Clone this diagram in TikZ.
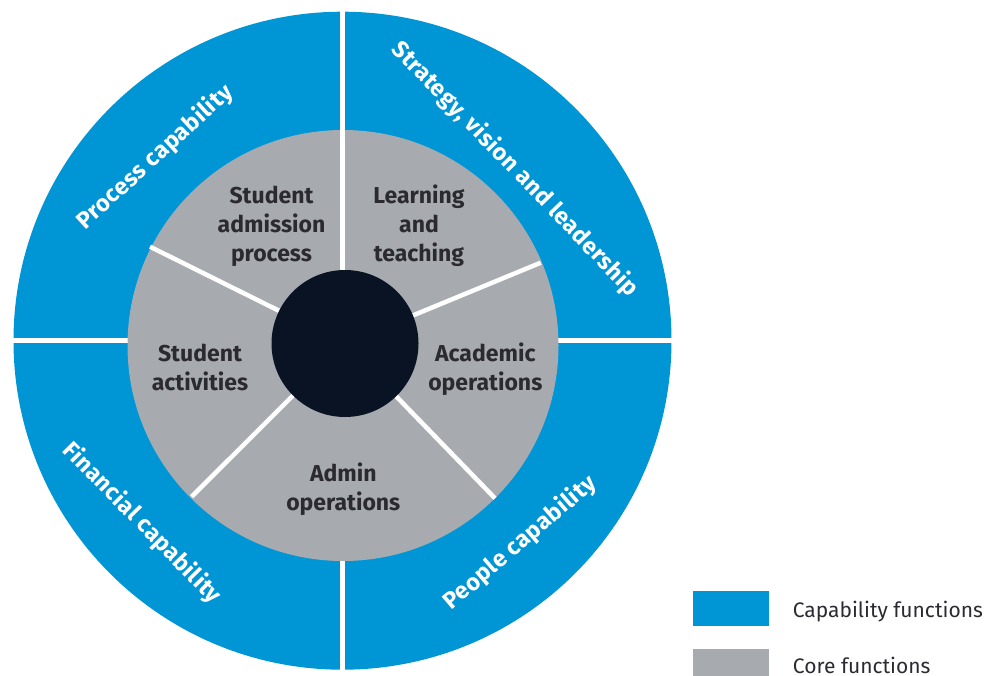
\documentclass[tikz,border=0pt]{standalone}
\usepackage{fontspec}
\setmainfont{Fira Sans}
\definecolor{capblue}{HTML}{0096D6}
\definecolor{coregray}{HTML}{A7ABB0}
\definecolor{hubdark}{HTML}{0A1324}
\definecolor{labeltxt}{HTML}{2B2A30}
\begin{document}
\begin{tikzpicture}[x=1pt,y=-1pt,
  divider/.style={white, line width=4.5pt},
  ringdivider/.style={white, line width=5pt},
  corelabel/.style={font=\bfseries\fontsize{23}{29}\selectfont, text=labeltxt, align=center, inner sep=0pt},
  ringlabel/.style={font=\bfseries\fontsize{23.5}{27}\selectfont\addfontfeatures{LetterSpace=2}, text=white, inner sep=0pt},
  legendbox/.style={minimum width=76pt, minimum height=35.5pt, inner sep=0pt, anchor=north west},
  legendtext/.style={font=\fontsize{21}{25}\selectfont, text=labeltxt, anchor=base west, inner sep=0pt}]
\useasboundingbox (0,0) rectangle (992,676);
% outer capability ring
\fill[capblue] (342.5,340.7) circle[radius=329pt];
\draw[ringdivider] (342.5,8) -- (342.5,674);
\draw[ringdivider] (10,340.7) -- (676,340.7);
% core ring
\fill[coregray] (343,345.5) circle[radius=215.5pt];
\coordinate (hubc) at (345,343.5);
\coordinate (d1) at (342.5,128);
\coordinate (d2) at (150,246.7);
\coordinate (d3) at (191.7,496.7);
\coordinate (d4) at (495,498.3);
\coordinate (d5) at (540.7,262.7);
\draw[divider] (342.5,343.5) -- (d1);
\foreach \d in {d2,d3,d4,d5} \draw[divider] (hubc) -- (\d);
\node[circle, fill=hubdark, minimum size=147pt, inner sep=0pt] (hub) at (hubc) {};
% core labels
\node[corelabel] (admission) at (271.5,226) {Student\\admission\\process};
\node[corelabel] (learning) at (419,225.5) {Learning\\and\\teaching};
\node[corelabel] (activities) at (200,367) {Student\\activities};
\node[corelabel] (academic) at (485.3,369.3) {Academic\\operations};
\node[corelabel] (adminops) at (343.3,489) {Admin\\operations};
% capability labels
\node[ringlabel, rotate=42.4] (process) at (155,157) {Process capability};
\node[ringlabel, rotate=-46] (strategy) at (515,169) {Strategy, vision and leadership};
\node[ringlabel, rotate=-45.6] (financial) at (142,523) {Financial capability};
\node[ringlabel, rotate=40.6] (people) at (520,543) {People capability};
% legend
\node[legendbox, fill=capblue] (capkey) at (693,590.5) {};
\node[legendbox, fill=coregray] (corekey) at (693,648.3) {};
\node[legendtext] (captext) at (792.7,617.3) {Capability functions};
\node[legendtext] (coretext) at (792.7,673.5) {Core functions};
\end{tikzpicture}
\end{document}
